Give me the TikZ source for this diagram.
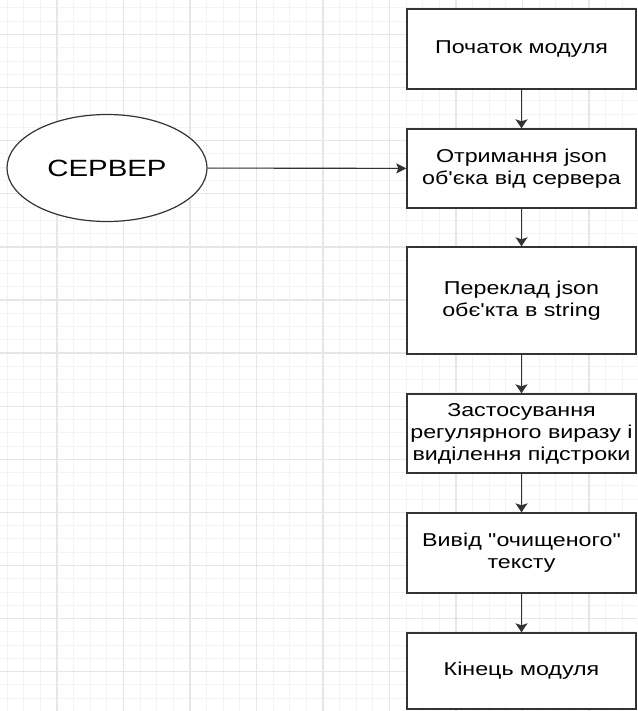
\documentclass[tikz,border=0pt]{standalone}
\usepackage{fontspec}
\newfontfamily\labelfont[FakeStretch=1.25]{Liberation Sans}
\usetikzlibrary{shapes.geometric,arrows.meta}
\definecolor{gridminor}{HTML}{F3F3F3}
\definecolor{gridmajor}{HTML}{E6E6E6}
\definecolor{edge}{HTML}{333333}
\tikzset{
  minorline/.style={gridminor,line width=1pt},
  majorline/.style={gridmajor,line width=1.4pt},
  stepbox/.style={draw=edge,line width=1.4pt,fill=white,rectangle,
    minimum width=229pt,inner sep=0pt,align=center,
    font=\labelfont\fontsize{18.6}{22}\selectfont},
  source/.style={draw=edge,line width=1.2pt,fill=white,ellipse,
    minimum width=200pt,minimum height=107pt,inner sep=0pt,
    font=\labelfont\fontsize{23.5}{27}\selectfont},
  flow/.style={edge,line width=1.3pt,
    -{Stealth[length=9pt,width=12pt,inset=2pt]}},
  feed/.style={edge,line width=1.1pt,
    -{Stealth[length=10pt,width=10pt,inset=2pt]}}
}
\begin{document}
\begin{tikzpicture}[x=1pt,y=-1pt]
  \useasboundingbox (0,0) rectangle (637,711);
  \clip (0,0) rectangle (637,711);
  \fill[white] (0,0) rectangle (637,711);
  % background grid
  \foreach \i in {-4,...,36}
    \draw[minorline] ({57+16.625*\i},0) -- ({57+16.625*\i},711);
  \foreach \j in {-3,...,52}
    \draw[minorline] (0,{34.5+13.275*\j}) -- (637,{34.5+13.275*\j});
  \foreach \i in {-1,...,9}
    \draw[majorline] ({57+66.5*\i},0) -- ({57+66.5*\i},711);
  \foreach \j in {-1,...,13}
    \draw[majorline] (0,{34.5+53.1*\j}) -- (637,{34.5+53.1*\j});

  % process steps
  \node[stepbox,minimum height=80pt]  (start)  at (521.5,49)    {Початок модуля};
  \node[stepbox,minimum height=79pt]  (fetch)  at (521.5,168.5) {Отримання json\\об'єка від сервера};
  \node[stepbox,minimum height=107pt] (conv)   at (521.5,300.5) {Переклад json\\обє'кта в string};
  \node[stepbox,minimum height=79pt]  (regex)  at (521.5,433.5) {Застосування\\регулярного виразу і\\виділення підстроки};
  \node[stepbox,minimum height=80pt]  (out)    at (521.5,553)   {Вивід "очищеного"\\тексту};
  \node[stepbox,minimum height=76pt]  (finish) at (521.5,671)   {Кінець модуля};

  % data source
  \node[source] (server) at (107,168) {СЕРВЕР};

  % connectors
  \draw[flow] (start) -- (fetch);
  \draw[flow] (fetch) -- (conv);
  \draw[flow] (conv) -- (regex);
  \draw[flow] (regex) -- (out);
  \draw[flow] (out) -- (finish);
  \draw[feed] (server) -- (fetch);
\end{tikzpicture}
\end{document}
